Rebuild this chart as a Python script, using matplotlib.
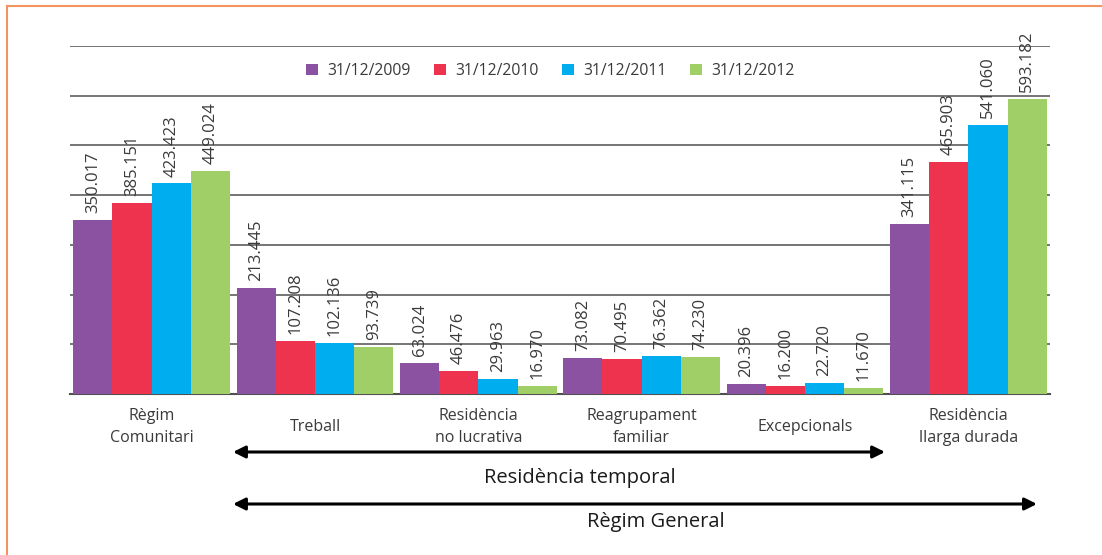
import numpy as np
import matplotlib
matplotlib.use("Agg")
import matplotlib.pyplot as plt
from matplotlib.patches import FancyArrowPatch
import matplotlib.transforms as mtransforms

plt.rcParams["font.family"] = ["Open Sans", "DejaVu Sans"]

# dades
categories = ["Règim\nComunitari", "Treball", "Residència\nno lucrativa",
              "Reagrupament\nfamiliar", "Excepcionals", "Residència\nllarga durada"]
series_labels = ["31/12/2009", "31/12/2010", "31/12/2011", "31/12/2012"]
v2009 = [350017, 213445, 63024, 73082, 20396, 341115]
v2010 = [385151, 107208, 46476, 70495, 16200, 465903]
v2011 = [423423, 102136, 29963, 76362, 22720, 541060]
v2012 = [449024, 93739, 16970, 74230, 11670, 593182]
colors = ["#8B52A1", "#EE334E", "#00AEEF", "#A0CF67"]

series = [v2009, v2010, v2011, v2012]

W, H = 1102, 555
fig = plt.figure(figsize=(W / 100, H / 100), dpi=100)
ax = fig.add_axes([70 / W, 1 - 394 / H, 980 / W, 348 / H])

x = np.arange(len(categories))
w = 0.24
for i, (vals, col, lab) in enumerate(zip(series, colors, series_labels)):
    pos = x + (i - 1.5) * w
    ax.bar(pos, vals, width=w, color=col, label=lab, zorder=3, linewidth=0)
    for p, v in zip(pos, vals):
        txt = f"{v:,}".replace(",", ".")
        ax.annotate(txt, (p, v), xytext=(0, 5), textcoords="offset points",
                    rotation=90, ha="center", va="bottom",
                    fontsize=12, color="#3a3a3a", zorder=4)

ax.set_xlim(-0.5, 5.5)
ax.set_ylim(0, 700000)
ax.set_yticks(np.arange(100000, 700001, 100000))
ax.yaxis.grid(True, color="#505050", linewidth=1.1, zorder=0)
ax.tick_params(axis="y", left=False, labelleft=False)
ax.tick_params(axis="x", bottom=False, labelbottom=False)
ax.set_xticks(x)
for s in ["top", "right", "left"]:
    ax.spines[s].set_visible(False)
ax.spines["bottom"].set_color("#505050")
ax.spines["bottom"].set_linewidth(1.5)

# etiquetes de categoria
tlab = mtransforms.blended_transform_factory(ax.transData, fig.transFigure)
for xi, cat in zip(x, categories):
    fig.text(xi, 1 - 427 / H, cat, transform=tlab, ha="center", va="center",
             multialignment="center", fontsize=11.5, color="#3a3a3a", linespacing=1.55)

ax.legend(loc="center", bbox_to_anchor=(0.49, 1 - 25 / 348), ncol=4, frameon=False,
          fontsize=11.3, handlelength=0.75, handleheight=0.75, columnspacing=1.5,
          handletextpad=0.6, labelcolor="#3a3a3a")

# fletxes de Residència temporal i Règim General
for x0, x1, yp in [(0.498, 4.49, 452), (0.498, 5.42, 504)]:
    arr = FancyArrowPatch((x0, 1 - yp / H), (x1, 1 - yp / H), transform=tlab,
                          arrowstyle="<|-|>,head_length=0.6,head_width=0.3",
                          mutation_scale=12, color="black", linewidth=2.2,
                          shrinkA=0, shrinkB=0, clip_on=False)
    fig.add_artist(arr)
fig.text(580 / W, 1 - 478 / H, "Residència temporal", ha="center", va="center",
         fontsize=14.5, color="#1a1a1a")
fig.text(656 / W, 1 - 522 / H, "Règim General", ha="center", va="center",
         fontsize=14.5, color="#1a1a1a")

# marc taronja
fig.add_artist(plt.Line2D([7 / W, 7 / W], [0, 1 - 6 / H],
                          transform=fig.transFigure, color="#F4935F", linewidth=1.5))
fig.add_artist(plt.Line2D([7 / W, 1], [1 - 6 / H, 1 - 6 / H],
                          transform=fig.transFigure, color="#F4935F", linewidth=1.5))

fig.savefig("out.png", dpi=100)
